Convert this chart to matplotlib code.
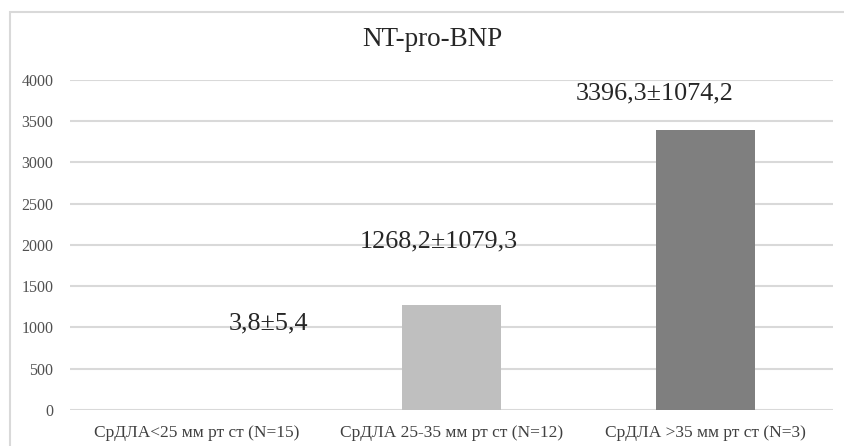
import numpy as np

import matplotlib
matplotlib.use('Agg')
import matplotlib.pyplot as plt
from matplotlib.patches import Rectangle

categories = ['СрДЛА<25 мм рт ст (N=15)',
              'СрДЛА 25-35 мм рт ст (N=12)',
              'СрДЛА >35 мм рт ст (N=3)']
means = [3.8, 1268.2, 3396.3]
sds = [5.4, 1079.3, 1074.2]
labels = ['3,8±5,4', '1268,2±1079,3', '3396,3±1074,2']
yticks = [0, 500, 1000, 1500, 2000, 2500, 3000, 3500, 4000]

colors = ['#e3e3e3', '#bfbfbf', '#7f7f7f']
label_pos = [(0.28, 1055), (0.95, 2048), (1.80, 3842)]

plt.rcParams['font.family'] = ['Liberation Serif', 'DejaVu Serif']

fig = plt.figure(figsize=(8.44, 4.46), dpi=100)
ax = fig.add_axes([0.0829, 0.0807, 0.904, 0.740])

# outer chart frame
fig.patches.append(Rectangle((10 / 844, -0.05), 1.0, 1 - 12 / 446 + 0.05,
                             transform=fig.transFigure, fill=False,
                             edgecolor='#d9d9d9', linewidth=1.5))

x = np.arange(len(categories))
ax.bar(x, means, width=0.39, color=colors, zorder=2)

for (lx, ly), txt in zip(label_pos, labels):
    ax.text(lx, ly, txt, ha='center', va='center', fontsize=18.8, color='#262626')

ax.set_xlim(-0.5, 2.5)
ax.set_ylim(0, 4000)
ax.set_yticks(yticks)
ax.set_yticklabels([str(v) for v in yticks], fontsize=11.5, color='#505050')
ax.set_xticks(x)
ax.set_xticklabels(categories, fontsize=12.5, color='#404040')
ax.tick_params(length=0)
ax.tick_params(axis='y', pad=12)
ax.tick_params(axis='x', pad=11)
ax.yaxis.grid(True, color='#d9d9d9', linewidth=1.5, zorder=0)
ax.set_axisbelow(True)
for s in ax.spines.values():
    s.set_visible(False)

fig.text(432 / 844, 1 - 40 / 446, 'NT-pro-BNP', ha='center', va='center',
         fontsize=19.5, color='#262626')

plt.savefig('out.png', dpi=100)
